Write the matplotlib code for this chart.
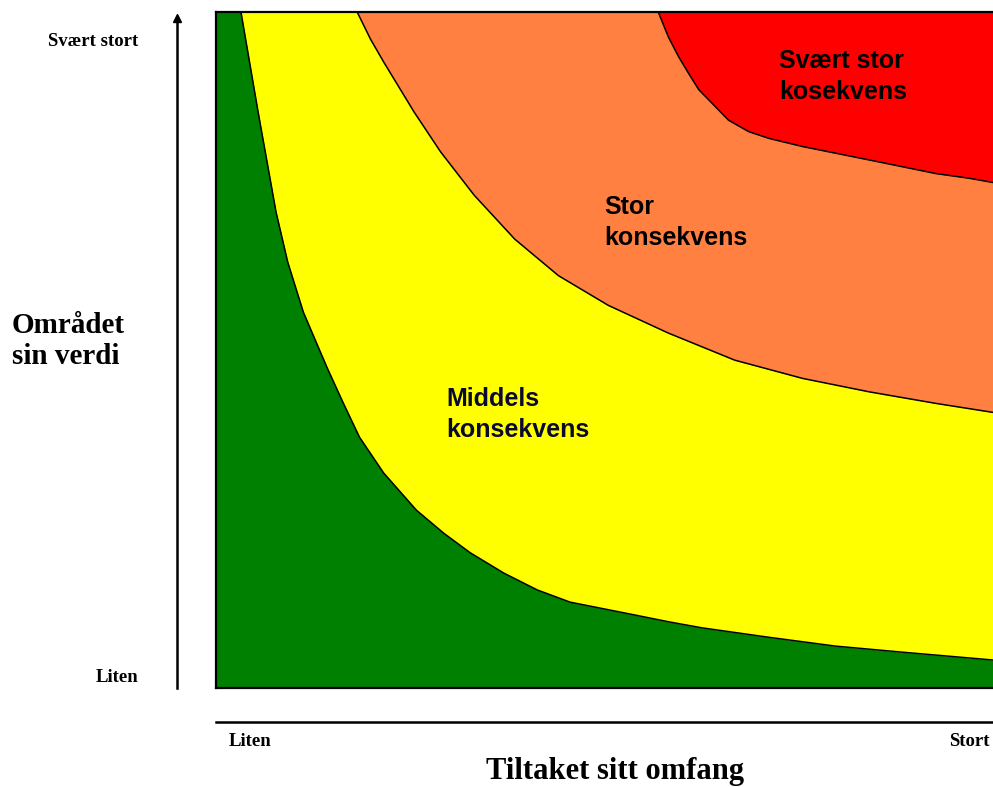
import matplotlib.pyplot as plt

# boundaries between consequence zones (x: tiltakets omfang 0-100, y: områdets verdi 0-100)
x_liten_middels = [0, 3.2, 5.4, 7.7, 9.2, 11.2, 14.2, 16.3, 18.4, 21.5, 25.7, 29.2, 32.6,
                   36.9, 41.2, 45.4, 53.7, 58.0, 62.3, 70.9, 79.4, 88.0, 100]
y_liten_middels = [100, 100, 85.2, 70.4, 63.0, 55.6, 47.5, 42.2, 37.1, 31.8, 26.3, 22.9, 20.0,
                   17.0, 14.5, 12.7, 10.8, 9.8, 8.9, 7.5, 6.2, 5.3, 4.1]

x_middels_stor = [0, 18.1, 19.8, 21.5, 25.4, 28.8, 33.1, 38.3, 43.9, 50.3, 58.0, 66.5, 75.2,
                  83.8, 92.3, 100]
y_middels_stor = [100, 100, 96.0, 92.6, 85.2, 79.3, 72.9, 66.4, 61.0, 56.6, 52.5, 48.5, 45.8,
                  43.8, 42.1, 40.7]

x_stor_svaert = [0, 56.7, 58.0, 59.3, 60.6, 61.9, 63.6, 65.7, 68.3, 70.9, 75.2, 79.5, 83.8,
                 92.3, 96.6, 100]
y_stor_svaert = [100, 100, 96.3, 93.4, 90.9, 88.5, 86.5, 84.0, 82.3, 81.3, 80.1, 79.1, 78.1,
                 76.1, 75.4, 74.7]

zone_labels = ["Middels\nkonsekvens", "Stor\nkonsekvens", "Svært stor\nkosekvens"]
zone_label_pos = [(29.5, 40.5), (49.8, 68.9), (72.2, 90.5)]
zone_label_colors = ["#0a0a30", "black", "black"]

GREEN = "#008000"
YELLOW = "#ffff00"
ORANGE = "#ff8040"
RED = "#ff0000"

fig = plt.figure(figsize=(9.93, 7.87), dpi=100)

ax = fig.add_axes([216 / 993, 1 - 688 / 787, 1 - 216 / 993 + 0.003, (688 - 12) / 787])
ax.set_xlim(0, 100)
ax.set_ylim(0, 100)
ax.set_facecolor(RED)

ax.fill_between(x_stor_svaert, y_stor_svaert, 0, color=ORANGE, lw=0)
ax.fill_between(x_middels_stor, y_middels_stor, 0, color=YELLOW, lw=0)
ax.fill_between(x_liten_middels, y_liten_middels, 0, color=GREEN, lw=0)

for xs, ys in [(x_liten_middels, y_liten_middels),
               (x_middels_stor, y_middels_stor),
               (x_stor_svaert, y_stor_svaert)]:
    ax.plot(xs[1:], ys[1:], color="black", lw=1.1)

for label, (lx, ly), c in zip(zone_labels, zone_label_pos, zone_label_colors):
    ax.text(lx, ly, label, color=c, fontsize=18, fontweight="bold",
            family="Liberation Sans", ha="left", va="center", linespacing=1.35)

ax.set_xticks([])
ax.set_yticks([])
for s in ax.spines.values():
    s.set_linewidth(1.6)

# overlay in pixel units for axis arrow, base line and labels
ov = fig.add_axes([0, 0, 1, 1], facecolor="none")
ov.set_xlim(0, 993)
ov.set_ylim(787, 0)
ov.axis("off")

ov.plot([177, 177], [688, 20], color="black", lw=1.8)
ov.plot([177], [18], marker="^", color="black", markersize=6)
ov.plot([216, 993], [722, 722], color="black", lw=1.8)

serif = "Liberation Serif"
ov.text(138, 41, "Svært stort", fontsize=13.5, fontweight="bold", family=serif, ha="right", va="center")
ov.text(138, 677, "Liten", fontsize=13.5, fontweight="bold", family=serif, ha="right", va="center")
ov.text(12, 341, "Området\nsin verdi", fontsize=21, fontweight="bold", family=serif,
        ha="left", va="center", linespacing=1.15)
ov.text(229, 742, "Liten", fontsize=13.5, fontweight="bold", family=serif, ha="left", va="center")
ov.text(990, 742, "Stort", fontsize=13.5, fontweight="bold", family=serif, ha="right", va="center")
ov.text(615, 771, "Tiltaket sitt omfang", fontsize=22, fontweight="bold", family=serif,
        ha="center", va="center")

fig.savefig("out.png", dpi=100)
